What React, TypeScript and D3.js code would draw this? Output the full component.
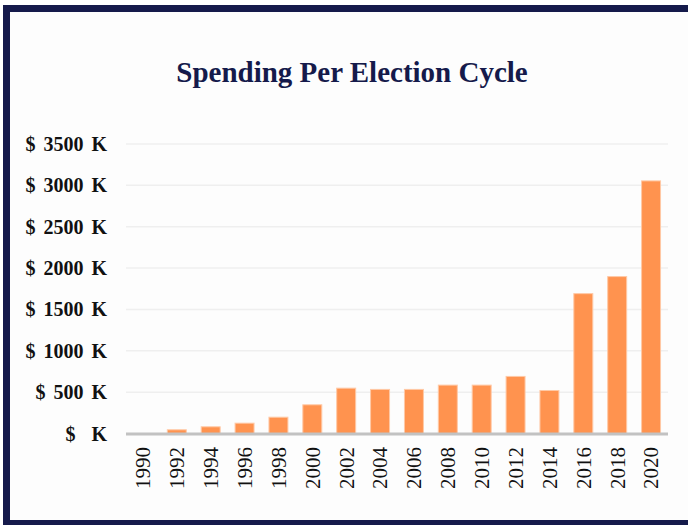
import React from "react";
import * as d3 from "d3";

const years = ["1990","1992","1994","1996","1998","2000","2002","2004","2006","2008","2010","2012","2014","2016","2018","2020"];
const spending = [0, 45, 81, 125, 197, 347, 548, 533, 533, 585, 585, 690, 520, 1691, 1897, 3054];
const yTicks = [0, 500, 1000, 1500, 2000, 2500, 3000, 3500];
const title = "Spending Per Election Cycle";

const W = 688, H = 525;
const plotLeft = 126, plotRight = 668, plotTop = 144, plotBottom = 433.5;

export default function App() {
  const x = d3.scaleBand<string>().domain(years).range([plotLeft, plotRight]).paddingInner(0.44).paddingOuter(0.22);
  const y = d3.scaleLinear().domain([0, 3500]).range([plotBottom, plotTop]);
  const navy = "#151a4b";
  return (
    <svg width={W} height={H} style={{ position: "absolute", left: 0, top: 0, display: "block" }}>
      <rect x={0} y={0} width={W} height={H} fill="#ffffff" />
      <rect x={6.5} y={8.5} width={W + 20} height={515} fill="#fdfdfd" stroke={navy} strokeWidth={7} />
      <text x={352} y={82} textAnchor="middle" fontFamily="'Liberation Serif', serif" fontWeight="bold" fontSize={29} fill={navy}>{title}</text>
      {yTicks.map((t) => (
        <g key={t}>
          {t > 0 && <line x1={plotLeft} x2={plotRight} y1={y(t)} y2={y(t)} stroke="#efefef" strokeWidth={1.5} />}
          <text x={107} y={y(t)} dy="0.35em" textAnchor="end" fontFamily="'Liberation Serif', serif" fontWeight="bold" fontSize={20} wordSpacing={3} fill="#111" style={{ whiteSpace: "pre" }}>
            {t === 0 ? "$  K" : `$ ${t} K`}
          </text>
        </g>
      ))}
      {years.map((yr, i) => (
        <rect key={yr} x={x(yr)} y={y(spending[i])} width={x.bandwidth()} height={Math.max(0, plotBottom - y(spending[i]))}
          fill="#ff934f" stroke="#ffc9a6" strokeWidth={1} />
      ))}
      <line x1={plotLeft} x2={plotRight} y1={plotBottom + 0.5} y2={plotBottom + 0.5} stroke="#c2c2c2" strokeWidth={3} />
      {years.map((yr) => {
        const cx = (x(yr) as number) + x.bandwidth() / 2;
        return (
          <text key={yr} transform={`translate(${cx},447) rotate(-90)`} textAnchor="end" dy="0.35em"
            fontFamily="'Liberation Serif', serif" fontSize={21} fill="#111">{yr}</text>
        );
      })}
    </svg>
  );
}
